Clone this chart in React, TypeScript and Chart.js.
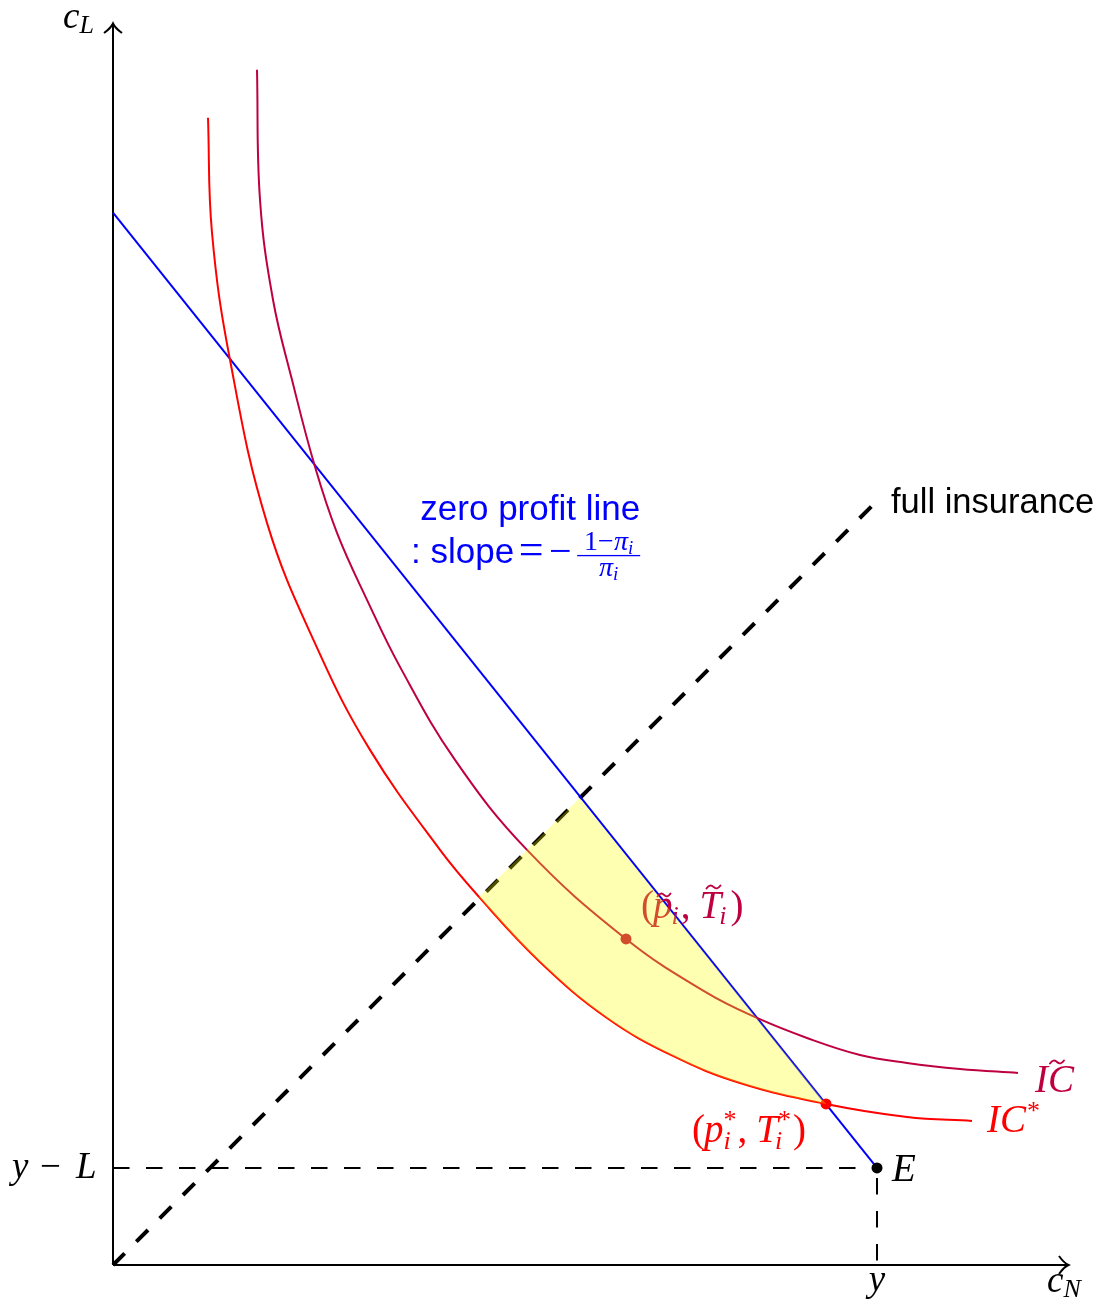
import React, { useEffect, useRef } from "react";
import { Chart, registerables } from "chart.js";

Chart.register(...registerables);

// ---------- data (in diagram units) ----------
const axisMaxX = 12.5;
const axisMaxY = 16.24;

// Indifference curve IC* (red)
const icStarX = [1.2435, 1.2958, 1.5314, 2.0157, 2.6832, 3.3639, 4.2801, 4.7906, 5.589, 6.466, 7.3298, 8.2068, 9.3325, 10.3927, 11.2435];
const icStarY = [15.013, 13.508, 11.846, 9.712, 8.0497, 6.7408, 5.4319, 4.8168, 3.966, 3.233, 2.7356, 2.3822, 2.1073, 1.9372, 1.8848];

// Indifference curve IC~ (purple)
const icTildeX = [1.8848, 1.9241, 2.0942, 2.3429, 2.644, 2.9319, 3.3246, 3.7565, 4.4764, 5.4188, 6.7147, 7.7749, 8.4293, 9.0838, 9.7775, 10.3927, 11.0864, 11.8455];
const icTildeY = [15.6414, 13.9398, 12.6309, 11.5838, 10.445, 9.5812, 8.7042, 7.8272, 6.6099, 5.4319, 4.267, 3.5602, 3.233, 2.9712, 2.7487, 2.644, 2.5654, 2.5131];

// Zero profit line
const zeroProfitX = [0, 10];
const zeroProfitY = [13.77, 1.27];

// Full insurance (45 degree) line
const fullInsX = [0, 10];
const fullInsY = [0, 10];

// Guides through the endowment E
const guideHX = [0, 10];
const guideHY = [1.27, 1.27];
const guideVX = [10, 10];
const guideVY = [1.27, 0];

// Marked points: (p~,T~), (p*,T*), E
const markX = [6.7147, 9.3325, 10];
const markY = [4.267, 2.1073, 1.27];

// Upper boundary of the shaded region (45° line then zero profit line)
const regionX = [4.7906, 6.11, 9.3325];
const regionY = [4.8168, 6.11, 2.1073];

// Texts
const axisLabels = ["c", "L", "c", "N"];
const tickLabels = ["y", "y", "−", "L"];
const lineLabels = ["zero profit line", ": slope", "full insurance"];

// ---------- styles ----------
const PURPLE = "rgb(191,0,64)";
const RED = "#ff0000";
const BLUE = "#0000ff";
const BLACK = "#000000";
const MI = 'italic 37px "Liberation Serif"';
const MR = '37px "Liberation Serif"';
const LI = 'italic 39px "Liberation Serif"';
const LR = '39px "Liberation Serif"';
const SI = 'italic 26px "Liberation Serif"';
const SR = '26px "Liberation Serif"';
const SS = '35px "Liberation Sans"';
const SS2 = '34.5px "Liberation Sans"';

const pts = (xs: number[], ys: number[]) => xs.map((x, i) => ({ x, y: ys[i] }));

function txt(ctx: CanvasRenderingContext2D, s: string, font: string, x: number, y: number, color: string, align: CanvasTextAlign = "left") {
  ctx.font = font;
  ctx.fillStyle = color;
  ctx.textAlign = align;
  ctx.fillText(s, x, y);
  return ctx.measureText(s).width;
}

function tilde(ctx: CanvasRenderingContext2D, cx: number, cy: number, w: number, color: string) {
  ctx.save();
  ctx.strokeStyle = color;
  ctx.lineWidth = 1.9;
  ctx.lineCap = "round";
  ctx.beginPath();
  ctx.moveTo(cx - w / 2, cy + 1.5);
  ctx.quadraticCurveTo(cx - w / 4, cy - 3.5, cx, cy);
  ctx.quadraticCurveTo(cx + w / 4, cy + 3.5, cx + w / 2, cy - 1.5);
  ctx.stroke();
  ctx.restore();
}

function arrowHead(ctx: CanvasRenderingContext2D, tx: number, ty: number, dir: "right" | "up") {
  ctx.beginPath();
  if (dir === "right") {
    ctx.moveTo(tx - 9, ty - 9);
    ctx.quadraticCurveTo(tx - 4, ty - 2, tx + 0.5, ty);
    ctx.quadraticCurveTo(tx - 4, ty + 2, tx - 9, ty + 9);
  } else {
    ctx.moveTo(tx - 9, ty + 9);
    ctx.quadraticCurveTo(tx - 2, ty + 4, tx, ty - 0.5);
    ctx.quadraticCurveTo(tx + 2, ty + 4, tx + 9, ty + 9);
  }
  ctx.stroke();
}

const overlay = {
  id: "overlay",
  beforeDatasetsDraw(chart: any) {
    const ctx: CanvasRenderingContext2D = chart.ctx;
    const X = (v: number) => chart.scales.x.getPixelForValue(v);
    const Y = (v: number) => chart.scales.y.getPixelForValue(v);
    const ox = X(0), oy = Y(0), xe = X(axisMaxX), ye = Y(axisMaxY);
    ctx.save();
    ctx.strokeStyle = BLACK;
    ctx.lineWidth = 2;
    ctx.beginPath();
    ctx.moveTo(ox, oy);
    ctx.lineTo(xe, oy);
    ctx.moveTo(ox, oy);
    ctx.lineTo(ox, ye);
    ctx.stroke();
    arrowHead(ctx, xe, oy, "right");
    arrowHead(ctx, ox, ye, "up");
    ctx.restore();
  },
  afterDatasetDraw(chart: any, args: any) {
    if (args.index !== 1) return;
    const ctx: CanvasRenderingContext2D = chart.ctx;
    const X = (v: number) => chart.scales.x.getPixelForValue(v);
    const Y = (v: number) => chart.scales.y.getPixelForValue(v);
    const ox = X(0), oy = Y(0), xe = X(axisMaxX), ye = Y(axisMaxY);
    ctx.save();
    ctx.textBaseline = "alphabetic";
    let x: number, y: number;

    // c_L
    x = ox - 50; y = ye + 4;
    x += txt(ctx, axisLabels[0], MI, x, y, BLACK);
    txt(ctx, axisLabels[1], SI, x, y + 5, BLACK);
    // c_N
    x = xe - 21; y = oy + 27;
    x += txt(ctx, axisLabels[2], MI, x, y, BLACK);
    txt(ctx, axisLabels[3], SI, x, y + 5, BLACK);
    // y tick
    txt(ctx, tickLabels[0], MI, X(guideVX[0]), oy + 26, BLACK, "center");
    // y - L
    y = Y(guideHY[0]) + 10;
    txt(ctx, tickLabels[1], MI, ox - 101, y, BLACK);
    txt(ctx, tickLabels[2], MR, ox - 73, y, BLACK);
    txt(ctx, tickLabels[3], MI, ox - 37, y, BLACK);
    // E
    txt(ctx, "E", LI, X(markX[2]) + 15, Y(markY[2]) + 13, BLACK);

    // (p~_i, T~_i)
    {
      const c = PURPLE;
      x = X(markX[0]) + 15; y = Y(markY[0]) - 21;
      x += txt(ctx, "(", LR, x, y, c) - 1;
      const p0 = x;
      x += txt(ctx, "p", LI, x, y, c);
      tilde(ctx, p0 + 11, y - 23, 13, c);
      x += txt(ctx, "i", SI, x - 1, y + 6, c) + 1;
      x += txt(ctx, ",", LR, x, y, c) + 9;
      const t0 = x;
      x += txt(ctx, "T", LI, x, y, c);
      tilde(ctx, t0 + 14, y - 31, 14, c);
      x += txt(ctx, "i", SI, x - 2, y + 6, c) + 2;
      txt(ctx, ")", LR, x, y, c);
    }
    // (p*_i, T*_i)
    {
      const c = RED;
      x = X(markX[1]) - 134; y = Y(markY[1]) + 38;
      x += txt(ctx, "(", LR, x, y, c) - 1;
      x += txt(ctx, "p", LI, x, y, c);
      const w1 = txt(ctx, "*", SR, x, y - 14, c);
      const w2 = txt(ctx, "i", SI, x, y + 7, c);
      x += Math.max(w1, w2) + 1;
      x += txt(ctx, ",", LR, x, y, c) + 9;
      x += txt(ctx, "T", LI, x, y, c);
      const w3 = txt(ctx, "*", SR, x, y - 14, c);
      const w4 = txt(ctx, "i", SI, x - 3, y + 7, c);
      x += Math.max(w3, w4) + 2;
      txt(ctx, ")", LR, x, y, c);
    }
    // IC~
    {
      const n = icTildeX.length - 1;
      x = X(icTildeX[n]) + 17; y = Y(icTildeY[n]) + 19;
      const x0 = x;
      x += txt(ctx, "I", LI, x, y, PURPLE);
      x += txt(ctx, "C", LI, x, y, PURPLE);
      tilde(ctx, x0 + 22, y - 30, 14, PURPLE);
    }
    // IC*
    {
      const n = icStarX.length - 1;
      x = X(icStarX[n]) + 15; y = Y(icStarY[n]) + 11;
      x += txt(ctx, "I", LI, x, y, RED);
      x += txt(ctx, "C", LI, x, y, RED);
      txt(ctx, "*", SR, x + 1, y - 13, RED);
    }
    // zero profit line label
    {
      const rx = X(6.9), by = Y(9.75);
      txt(ctx, lineLabels[0], SS, rx, by, BLUE, "right");
      const y2 = by + 43;
      txt(ctx, lineLabels[1], SS, rx - 126, y2, BLUE, "right");
      txt(ctx, "=", '44px "Liberation Serif"', rx - 109, y2 + 1, BLUE, "center");
      txt(ctx, "−", '40px "Liberation Serif"', rx - 80, y2 + 1, BLUE, "center");
      const fx = rx - 31.5;
      ctx.fillStyle = BLUE;
      ctx.fillRect(fx - 31.5, y2 - 8, 63, 1.3);
      const NR = '28px "Liberation Serif"';
      const NI = 'italic 28px "Liberation Serif"';
      const NS = 'italic 19px "Liberation Serif"';
      ctx.font = NR;
      const a = ctx.measureText("1−").width;
      ctx.font = NI;
      const b = ctx.measureText("π").width;
      ctx.font = NS;
      const d = ctx.measureText("i").width;
      let nx = fx - (a + b + d) / 2;
      nx += txt(ctx, "1−", NR, nx, y2 - 13, BLUE);
      nx += txt(ctx, "π", NI, nx, y2 - 13, BLUE);
      txt(ctx, "i", NS, nx, y2 - 9, BLUE);
      let dx = fx - (b + d) / 2;
      dx += txt(ctx, "π", NI, dx, y2 + 13, BLUE);
      txt(ctx, "i", NS, dx, y2 + 17, BLUE);
    }
    // full insurance
    txt(ctx, lineLabels[2], SS2, X(fullInsX[1]) + 14, Y(fullInsY[1]) + 12, BLACK);
    ctx.restore();
  },
};

export default function App() {
  const ref = useRef<HTMLCanvasElement>(null);
  useEffect(() => {
    document.body.style.margin = "0";
    const lineBase = { pointRadius: 0, pointHoverRadius: 0, fill: false, clip: false as any };
    const chart = new Chart(ref.current as HTMLCanvasElement, {
      type: "line",
      data: {
        datasets: [
          {
            data: pts(regionX, regionY),
            borderWidth: 0,
            borderColor: "transparent",
            backgroundColor: "rgba(255,255,0,0.3)",
            pointRadius: 0,
            tension: 0,
            fill: 2,
          },
          {
            data: pts(markX, markY),
            showLine: false,
            pointRadius: 5.5,
            pointBorderWidth: 0,
            pointBackgroundColor: [PURPLE, RED, BLACK],
            pointBorderColor: [PURPLE, RED, BLACK],
            clip: false as any,
          },
          { ...lineBase, data: pts(icStarX, icStarY), borderColor: RED, borderWidth: 2, tension: 0.4 },
          { ...lineBase, data: pts(icTildeX, icTildeY), borderColor: PURPLE, borderWidth: 2, tension: 0.4 },
          { ...lineBase, data: pts(zeroProfitX, zeroProfitY), borderColor: BLUE, borderWidth: 2 },
          { ...lineBase, data: pts(fullInsX, fullInsY), borderColor: BLACK, borderWidth: 4, borderDash: [16.5, 16.5] },
          { ...lineBase, data: pts(guideHX, guideHY), borderColor: BLACK, borderWidth: 2, borderDash: [16.5, 16.5] },
          { ...lineBase, data: pts(guideVX, guideVY), borderColor: BLACK, borderWidth: 2, borderDash: [16.5, 16.5], borderDashOffset: 23 },
        ] as any,
      },
      options: {
        animation: false,
        responsive: false,
        events: [],
        layout: { padding: { left: 113, right: 29, top: 24, bottom: 34 } },
        scales: {
          x: { type: "linear", min: 0, max: axisMaxX, display: false },
          y: { type: "linear", min: 0, max: axisMaxY, display: false },
        },
        plugins: {
          legend: { display: false },
          tooltip: { enabled: false },
          filler: { propagate: false },
        },
      } as any,
      plugins: [overlay as any],
    });
    return () => chart.destroy();
  }, []);
  return (
    <div style={{ position: "absolute", left: 0, top: 0, width: 1097, height: 1299, background: "#fff" }}>
      <canvas ref={ref} width={1097} height={1299} style={{ width: 1097, height: 1299, display: "block" }} />
    </div>
  );
}
